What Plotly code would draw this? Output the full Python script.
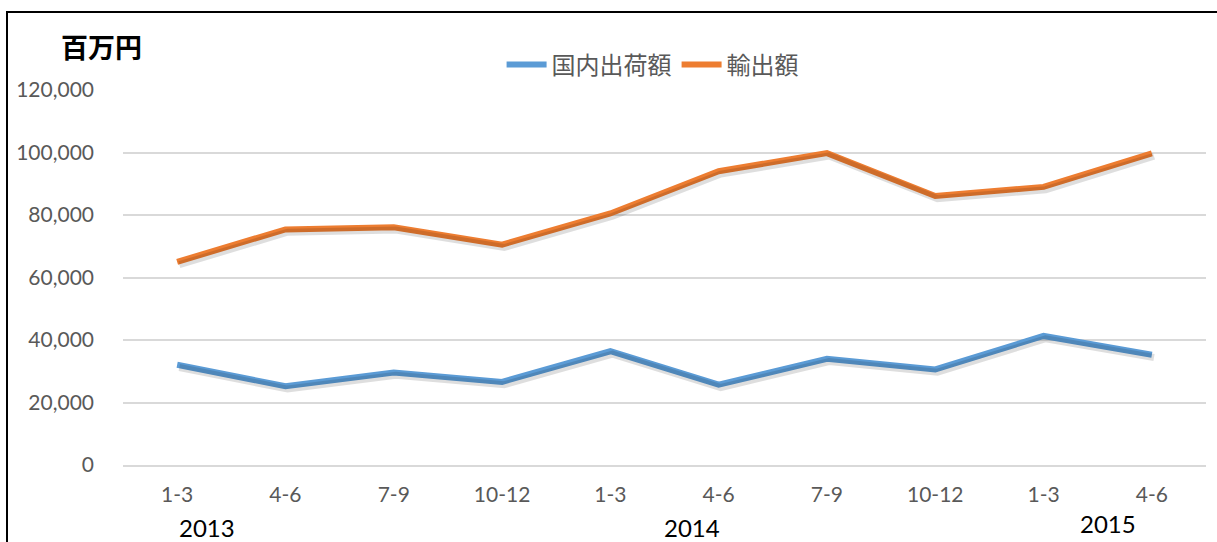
import plotly.graph_objects as go

quarters = ["1-3", "4-6", "7-9", "10-12", "1-3", "4-6", "7-9", "10-12", "1-3", "4-6"]
years = ["2013", "2014", "2015"]
domestic = [32100, 25200, 29600, 26600, 36400, 25700, 34000, 30600, 41300, 35300]
exports = [65000, 75400, 76100, 70500, 80500, 94000, 99800, 86100, 89000, 99700]
series_names = ["国内出荷額", "輸出額"]
colors = ["#5B9BD5", "#ED7D31"]
unit_label = "百万円"

idx = list(range(len(quarters)))
FONT = "Lato, 'Noto Sans CJK JP', sans-serif"
CJK = "'Noto Sans CJK JP', sans-serif"

fig = go.Figure()

# soft drop shadows (same data, overlay axes shifted by a few pixels)
for vals in (domestic, exports):
    fig.add_trace(go.Scatter(x=idx, y=vals, mode="lines", xaxis="x2", yaxis="y2",
                             line=dict(color="rgba(0,0,0,0.13)", width=7),
                             showlegend=False, hoverinfo="skip"))

for name, vals, col in zip(series_names, [domestic, exports], colors):
    fig.add_trace(go.Scatter(x=idx, y=vals, mode="lines", name=name,
                             line=dict(color=col, width=6)))

fig.update_layout(
    width=1217, height=542,
    margin=dict(l=123, r=11, t=90, b=77),
    paper_bgcolor="white", plot_bgcolor="white",
    font=dict(family=FONT, color="#595959", size=21),
    showlegend=True,
    legend=dict(orientation="h", x=0.489, xanchor="center", y=1.067, yanchor="middle",
                font=dict(family=CJK, size=24, color="#595959"),
                bgcolor="rgba(0,0,0,0)", itemwidth=40),
    xaxis=dict(range=[-0.5, len(quarters) - 0.5], tickmode="array", tickvals=idx,
               ticktext=quarters, showgrid=False, zeroline=False,
               showline=True, linecolor="#D9D9D9", linewidth=2,
               ticks="", ticklabelstandoff=10,
               tickfont=dict(family=FONT, size=21, color="#595959")),
    yaxis=dict(range=[0, 120000], tickmode="linear", tick0=0, dtick=20000,
               tickformat=",d", showgrid=True, gridcolor="#D9D9D9", gridwidth=1.5,
               zeroline=False, showline=False, ticks="", ticklabelstandoff=28,
               tickfont=dict(family=FONT, size=21, color="#595959")),
    xaxis2=dict(overlaying="x", range=[-0.5 - 0.02, len(quarters) - 0.5 - 0.02],
                visible=False, anchor="y2"),
    yaxis2=dict(overlaying="y", range=[0 + 900, 120000 + 900], visible=False,
                anchor="x2"),
)

# unit label
fig.add_annotation(text=unit_label, xref="paper", yref="paper", x=-0.0203, y=1.115,
                   showarrow=False, xanchor="center", yanchor="middle",
                   font=dict(family=CJK, size=27, color="black", weight="bold"))

# year labels
year_pos = [(0.0776, -0.166), (0.5254, -0.166), (0.9095, -0.155)]
for yr, (px, py) in zip(years, year_pos):
    fig.add_annotation(text=yr, xref="paper", yref="paper", x=px, y=py,
                       showarrow=False, xanchor="center", yanchor="middle",
                       font=dict(family=FONT, size=24, color="black"))

# chart border (only left and top edges visible in the frame)
fig.add_shape(type="rect", xref="paper", yref="paper",
              x0=(7 - 123) / 1083, x1=1.2, y0=-0.5, y1=(465 - 12) / 375,
              line=dict(color="black", width=2), fillcolor="rgba(0,0,0,0)", layer="above")

fig.write_html("out.html", config={"displayModeBar": False},
               post_script="document.body.style.margin='0';document.body.style.overflow='hidden';")
